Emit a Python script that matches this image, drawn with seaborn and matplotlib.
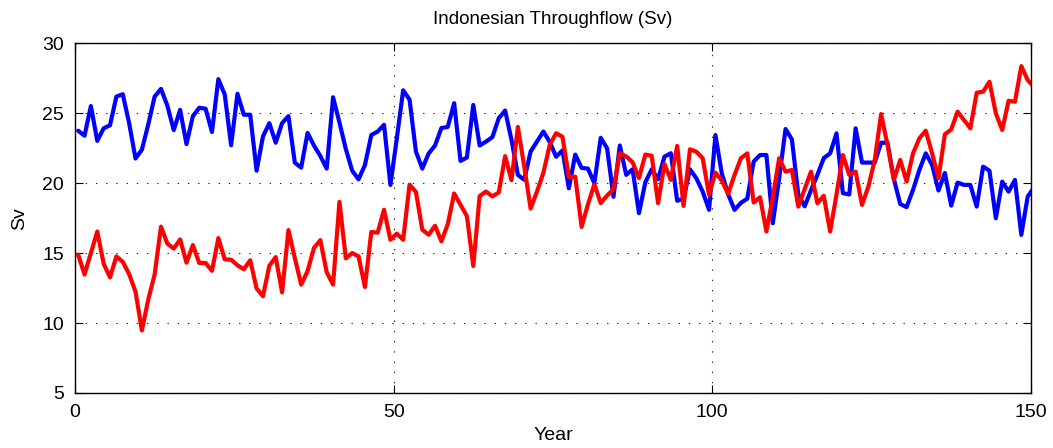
import numpy as np
import pandas as pd
import matplotlib
matplotlib.use("Agg")
import matplotlib.pyplot as plt
import seaborn as sns

# Annual-mean transport (Sv), one value per model year, plotted at mid-year
years = np.arange(151) + 0.5

itf_blue = [
    23.76, 23.40, 25.52, 23.03, 23.93, 24.15, 26.20, 26.37, 24.30, 21.77,
    22.40, 24.20, 26.20, 26.75, 25.55, 23.80, 25.25, 22.80, 24.80, 25.40,
    25.33, 23.67, 27.45, 26.35, 22.72, 26.40, 24.90, 24.90, 20.90, 23.35,
    24.30, 22.90, 24.30, 24.80, 21.47, 21.12, 23.60, 22.70, 21.95, 21.05,
    26.15, 24.35, 22.45, 20.90, 20.28, 21.30, 23.45, 23.70, 24.18, 19.88,
    23.20, 26.65, 25.98, 22.28, 21.05, 22.13, 22.70, 23.95, 24.03, 25.73,
    21.60, 21.84, 25.60, 22.70, 22.98, 23.30, 24.65, 25.20, 23.10, 20.60,
    20.25, 22.27, 22.98, 23.70, 22.95, 21.90, 22.35, 19.64, 22.05, 21.10,
    21.05, 20.00, 23.25, 22.50, 19.03, 22.70, 20.60, 21.00, 17.86, 20.07,
    21.00, 20.30, 21.90, 22.15, 18.75, 18.90, 21.00, 20.36, 19.40, 18.10,
    23.45, 20.70, 19.20, 18.10, 18.60, 18.90, 21.55, 22.02, 22.02, 17.14,
    20.36, 23.88, 23.14, 19.20, 18.35, 19.50, 20.60, 21.80, 22.14, 23.57,
    19.29, 19.20, 23.93, 21.48, 21.48, 21.48, 22.90, 22.90, 20.30, 18.52,
    18.29, 19.52, 20.95, 22.14, 21.31, 19.48, 20.74, 18.40, 20.05, 19.88,
    19.88, 18.33, 21.19, 20.90, 17.50, 20.12, 19.40, 20.24, 16.31, 19.05,
    19.70,
]

itf_red = [
    14.90, 13.47, 15.00, 16.55, 14.25, 13.27, 14.77, 14.38, 13.50, 12.25,
    9.47, 11.68, 13.47, 16.90, 15.68, 15.33, 15.98, 14.32, 15.58, 14.30,
    14.30, 13.74, 16.08, 14.56, 14.53, 14.13, 13.85, 14.49, 12.48, 11.92,
    14.10, 14.72, 12.20, 16.65, 14.65, 12.75, 13.72, 15.37, 15.93, 13.64,
    12.75, 18.67, 14.63, 15.01, 14.77, 12.58, 16.52, 16.47, 18.11, 15.96,
    16.40, 15.96, 19.90, 19.38, 16.68, 16.32, 16.96, 15.85, 17.07, 19.27,
    18.46, 17.65, 14.08, 19.08, 19.41, 19.06, 19.34, 21.94, 20.22, 24.03,
    21.20, 18.19, 19.41, 20.74, 22.75, 23.58, 23.32, 20.44, 20.47, 16.88,
    18.50, 19.92, 18.58, 19.12, 19.58, 22.15, 21.92, 21.50, 20.37, 22.05,
    21.97, 18.57, 21.38, 20.24, 22.67, 18.38, 22.43, 22.26, 21.79, 19.17,
    20.76, 20.19, 19.24, 20.60, 21.79, 22.14, 18.62, 19.00, 16.55, 19.00,
    21.79, 20.83, 20.95, 18.33, 19.57, 20.83, 18.57, 19.10, 16.55, 19.20,
    22.02, 20.60, 20.83, 18.45, 19.76, 21.67, 24.95, 22.74, 20.24, 21.67,
    20.12, 22.14, 23.21, 23.76, 22.14, 20.36, 23.50, 23.85, 25.12, 24.52,
    23.93, 26.48, 26.55, 27.26, 25.00, 23.81, 25.90, 25.83, 28.38, 27.38,
    26.90,
]

x_ticks = [0, 50, 100, 150]
y_ticks = [5, 10, 15, 20, 25, 30]

df = pd.DataFrame({"Year": years, "blue": itf_blue, "red": itf_red})

sns.set_style("white")
plt.rcParams["font.family"] = ["Liberation Sans", "DejaVu Sans"]
plt.rcParams["text.color"] = "black"
plt.rcParams["axes.labelcolor"] = "black"

fig = plt.figure(figsize=(10.53, 4.48), dpi=100)
ax = fig.add_axes([0.0712, 0.1228, 0.9078, 0.7802])

sns.lineplot(data=df, x="Year", y="blue", color=(0, 0, 1), linewidth=3.0,
             estimator=None, sort=False, ax=ax)
sns.lineplot(data=df, x="Year", y="red", color=(1, 0, 0), linewidth=3.0,
             estimator=None, sort=False, ax=ax)

ax.set_xlim(0, 150)
ax.set_ylim(5, 30)
ax.set_xticks(x_ticks)
ax.set_yticks(y_ticks)
ax.set_xticklabels([str(t) for t in x_ticks], fontsize=14)
ax.set_yticklabels([str(t) for t in y_ticks], fontsize=14)

ax.grid(True, color="#222222", linestyle=(0, (1.2, 8.0)), linewidth=0.8)
ax.set_axisbelow(True)

for side in ["left", "right", "top", "bottom"]:
    ax.spines[side].set_visible(True)
    ax.spines[side].set_color("black")
    ax.spines[side].set_linewidth(1.0)

ax.tick_params(axis="both", direction="in", length=6, width=0.8,
               top=True, right=True, bottom=True, left=True, pad=8,
               colors="black")

ax.set_xlabel("Year", fontsize=14, labelpad=4)
ax.set_ylabel("Sv", fontsize=14, labelpad=10)
ax.set_title("Indonesian Throughflow (Sv)", fontsize=13.5, pad=14)

fig.savefig("out.png", dpi=100, facecolor="white")
